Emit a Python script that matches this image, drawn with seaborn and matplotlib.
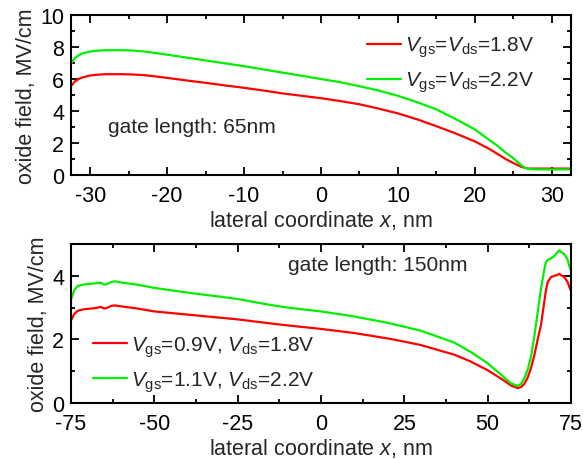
import matplotlib
matplotlib.use("Agg")
import matplotlib.pyplot as plt
from matplotlib.ticker import MultipleLocator
import numpy as np
import pandas as pd
import seaborn as sns

# ---------------- data ----------------
# top panel (gate length 65 nm)
x_top = [-32.5, -32, -31.5, -31, -30, -29, -28, -26, -25, -24, -23, -22, -21, -20, -17.5, -15, -12.5, -10,
         -7.5, -5, -2.5, 0, 2.5, 5, 7.5, 10, 12.5, 15, 17.5, 20, 21, 22, 23, 24, 25, 26, 26.5, 27,
         28, 30, 32.5]
red_top = [5.55, 5.85, 6.0, 6.1, 6.22, 6.27, 6.3, 6.3, 6.29, 6.27, 6.24, 6.19, 6.13, 6.07, 5.91, 5.76, 5.6, 5.45,
           5.28, 5.1, 4.95, 4.8, 4.62, 4.42, 4.15, 3.85, 3.48, 3.05, 2.6, 2.1, 1.85, 1.6, 1.3, 1.0, 0.75,
           0.52, 0.45, 0.4, 0.4, 0.4, 0.4]
green_top = [6.95, 7.3, 7.48, 7.6, 7.72, 7.77, 7.8, 7.8, 7.79, 7.76, 7.72, 7.66, 7.59, 7.52, 7.34, 7.16, 6.98, 6.8,
             6.6, 6.4, 6.2, 6.0, 5.8, 5.55, 5.28, 4.95, 4.55, 4.1, 3.5, 2.85, 2.5, 2.15, 1.8, 1.4, 1.05,
             0.62, 0.45, 0.38, 0.35, 0.35, 0.35]
labels_top = [r"$V_{\rm gs}$=$V_{\rm ds}$=1.8V", r"$V_{\rm gs}$=$V_{\rm ds}$=2.2V"]

# bottom panel (gate length 150 nm)
x_bot = [-75, -74, -73, -71, -68, -66, -65, -64, -63, -62, -60, -55, -50, -40, -30, -25, -15, -10,
         0, 10, 20, 25, 30, 40, 45, 50, 55, 57, 59, 60, 61, 62, 63, 64, 65, 66, 67, 67.5, 68, 69, 70,
         71, 71.5, 72, 73, 74, 74.5, 75]
red_bot = [2.6, 2.8, 2.9, 2.95, 2.98, 3.02, 2.97, 3.0, 3.05, 3.07, 3.04, 2.97, 2.88, 2.78, 2.68, 2.63,
           2.5, 2.44, 2.33, 2.2, 2.03, 1.93, 1.82, 1.52, 1.3, 1.03, 0.7, 0.55, 0.47, 0.5, 0.6, 0.8, 1.1,
           1.5, 2.0, 2.45, 3.2, 3.55, 3.8, 3.96, 4.0, 4.03, 4.06, 4.02, 3.96, 3.8, 3.65, 3.52]
green_bot = [3.25, 3.55, 3.68, 3.73, 3.76, 3.78, 3.72, 3.75, 3.8, 3.83, 3.79, 3.72, 3.62, 3.47, 3.34,
             3.27, 3.08, 3.0, 2.88, 2.72, 2.52, 2.4, 2.27, 1.9, 1.6, 1.25, 0.8, 0.62, 0.54, 0.6, 0.78,
             1.05, 1.45, 2.1, 2.85, 3.6, 4.2, 4.43, 4.5, 4.55, 4.62, 4.75, 4.8, 4.75, 4.68, 4.5, 4.3, 4.18]
labels_bot = [r"$V_{\rm gs}$=0.9V, $V_{\rm ds}$=1.8V", r"$V_{\rm gs}$=1.1V, $V_{\rm ds}$=2.2V"]

colors = ["#ff0000", "#00f000"]

# ---------------- style ----------------
sns.set_style("ticks")
plt.rcParams["font.family"] = ["Liberation Sans", "DejaVu Sans"]
plt.rcParams["mathtext.fontset"] = "custom"
plt.rcParams["mathtext.rm"] = "Liberation Sans"
plt.rcParams["mathtext.it"] = "Liberation Sans:italic"
plt.rcParams["axes.unicode_minus"] = False
plt.rcParams["axes.linewidth"] = 1.5
plt.rcParams["axes.edgecolor"] = "black"

fig = plt.figure(figsize=(5.83, 4.60), dpi=100)
ax1 = fig.add_axes([71 / 583, 1 - 176 / 460, 500 / 583, 160 / 460])
ax2 = fig.add_axes([71 / 583, 1 - 404 / 460, 500 / 583, 159 / 460])

df_top = pd.concat([
    pd.DataFrame({"x": x_top, "y": red_top, "s": labels_top[0]}),
    pd.DataFrame({"x": x_top, "y": green_top, "s": labels_top[1]}),
])
df_bot = pd.concat([
    pd.DataFrame({"x": x_bot, "y": red_bot, "s": labels_bot[0]}),
    pd.DataFrame({"x": x_bot, "y": green_bot, "s": labels_bot[1]}),
])

sns.lineplot(data=df_top, x="x", y="y", hue="s", palette=colors, lw=1.6, ax=ax1, sort=False)
sns.lineplot(data=df_bot, x="x", y="y", hue="s", palette=colors, lw=1.6, ax=ax2, sort=False)

label_fs = 15.5
tick_fs = 15.5
text_fs = 15

for ax in (ax1, ax2):
    ax.tick_params(which="both", direction="in", top=True, right=True, width=1.3,
                   labelsize=tick_fs, colors="black")
    ax.tick_params(axis="x", which="both", pad=7.5)
    ax.tick_params(axis="y", which="both", pad=5)
    ax.tick_params(which="major", length=6)
    ax.tick_params(which="minor", length=3)
    ax.set_xlabel(r"lateral coordinate $x$, nm", fontsize=label_fs, labelpad=1)
    ax.set_ylabel("oxide field, MV/cm", fontsize=label_fs, labelpad=2)
    for sp in ax.spines.values():
        sp.set_linewidth(1.5)
        sp.set_visible(True)

ax1.set_xlim(-32.5, 32.5)
ax1.set_ylim(0, 10)
ax1.xaxis.set_major_locator(MultipleLocator(10))
ax1.xaxis.set_minor_locator(MultipleLocator(5))
ax1.yaxis.set_major_locator(MultipleLocator(2))
ax1.yaxis.set_minor_locator(MultipleLocator(1))

ax2.set_xlim(-75, 75)
ax2.set_ylim(0, 5)
ax2.xaxis.set_major_locator(MultipleLocator(25))
ax2.xaxis.set_minor_locator(MultipleLocator(12.5))
ax2.yaxis.set_major_locator(MultipleLocator(2))
ax2.yaxis.set_minor_locator(MultipleLocator(1))

ax1.text(0.074, 0.306, "gate length: 65nm", transform=ax1.transAxes, fontsize=text_fs,
         va="center", ha="left")
ax2.text(0.434, 0.874, "gate length: 150nm", transform=ax2.transAxes, fontsize=text_fs,
         va="center", ha="left")

leg_kw = dict(frameon=False, fontsize=text_fs, handlelength=1.65, handletextpad=0.2,
              labelspacing=0.5, borderaxespad=0, borderpad=0.4)
leg1 = ax1.legend(loc="center left", bbox_to_anchor=(0.575, 0.69), **leg_kw)
leg2 = ax2.legend(loc="center left", bbox_to_anchor=(0.027, 0.245), **leg_kw)
for leg in (leg1, leg2):
    for h in leg.get_lines():
        h.set_linewidth(1.6)

fig.savefig("out.png", dpi=100)
